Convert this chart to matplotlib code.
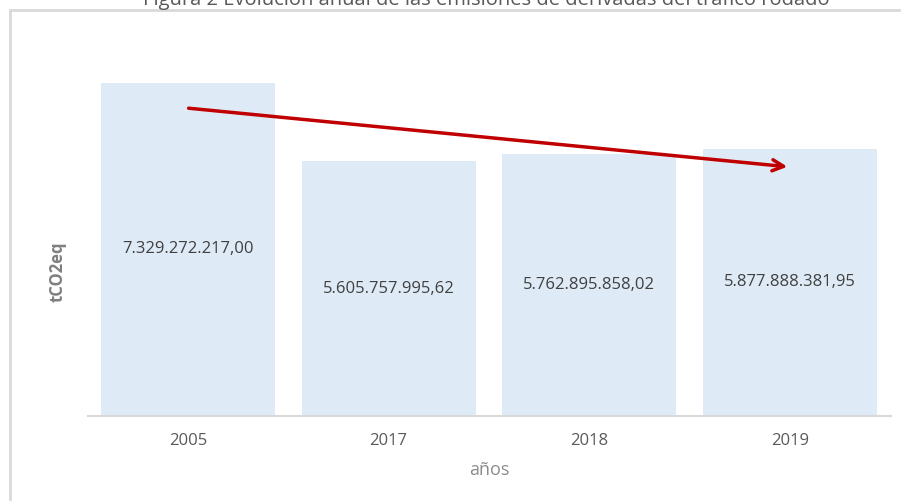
import matplotlib.pyplot as plt
from matplotlib.patches import Rectangle

years = ['2005', '2017', '2018', '2019']
values = [7329272217.00, 5605757995.62, 5762895858.02, 5877888381.95]
labels = ['7.329.272.217,00', '5.605.757.995,62', '5.762.895.858,02', '5.877.888.381,95']

plt.rcParams['font.family'] = ['Open Sans', 'DejaVu Sans']

W, H = 901, 501
fig = plt.figure(figsize=(W / 100, H / 100), dpi=100)

# outer chart frame (cut off at right/bottom)
fig.patches.append(Rectangle((10 / W, -0.1), 1.2, 1 - 10 / H + 0.1, transform=fig.transFigure,
                             fill=False, edgecolor='#d9d9d9', linewidth=2))

# title, clipped at top edge
fig.text(486 / W, 1 - 5 / H, 'Figura 2 Evolución anual de las emisiones de derivadas del tráfico rodado',
         ha='center', va='baseline', fontsize=14.5, color='#595959')

ax = fig.add_axes([87.5 / W, 1 - 416 / H, 803 / W, (416 - 52.5) / H])
x = range(len(years))
ax.bar(x, values, width=0.867, color='#deeaf6')
for i, v in enumerate(values):
    ax.text(i, v / 2, labels[i], ha='center', va='center', fontsize=12, color='#404040')

ax.set_xlim(-0.5, 3.5)
ax.set_ylim(0, 8e9)
ax.set_xticks(list(x))
ax.set_xticklabels(years, fontsize=12, color='#595959')
ax.tick_params(axis='x', length=0, pad=12)
ax.set_yticks([])
for s in ['top', 'right', 'left']:
    ax.spines[s].set_visible(False)
ax.spines['bottom'].set_color('#d9d9d9')
ax.spines['bottom'].set_linewidth(1.5)

ax.set_xlabel('años', fontsize=13, color='#8c8c8c', labelpad=9)
ax.set_ylabel('tCO2eq', fontsize=12, color='#7f7f7f', fontweight='bold')
ax.yaxis.set_label_coords(-0.026, 0.396)

# trend arrow
ax.annotate('', xy=(3.0, 5.48e9), xytext=(-0.01, 6.78e9),
            arrowprops=dict(arrowstyle='->,head_length=0.8,head_width=0.4', color='#c00000', lw=2.5))

fig.savefig('out.png', dpi=100)
